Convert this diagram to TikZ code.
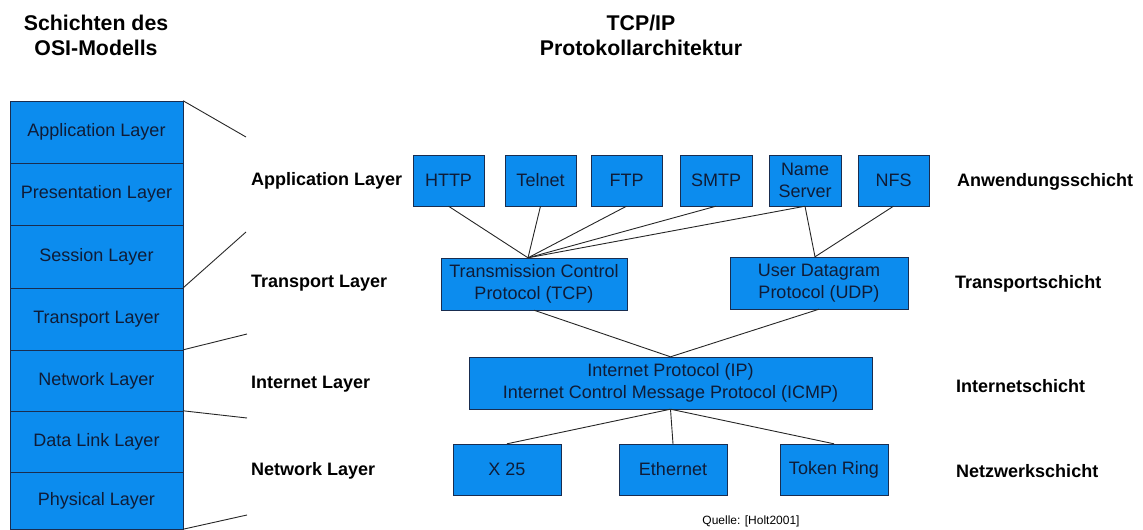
\documentclass[tikz,border=0pt]{standalone}
\usepackage{fontspec}
\setmainfont{Liberation Sans}
\usepackage{tikz}
\usepackage{xcolor}

\definecolor{boxblue}{RGB}{12,140,238}
\definecolor{boxline}{RGB}{25,45,80}
\definecolor{boxtext}{RGB}{15,28,55}

\tikzset{
  proto/.style={draw=boxline, fill=boxblue, text=boxtext, align=center, inner sep=0pt,
    font=\fontsize{18}{22.5}\selectfont, minimum height=51pt},
  osibox/.style={proto, minimum width=173pt},
  layerlbl/.style={anchor=west, inner sep=0pt, font=\fontsize{18}{22}\selectfont\bfseries},
  headline/.style={align=center, font=\fontsize{21.3}{25}\selectfont\bfseries},
  link/.style={draw=black!85, line width=0.9pt}
}

\begin{document}
\begin{tikzpicture}[x=1pt, y=-1pt]
        \useasboundingbox (0,0) rectangle (1143,530);

        % headings
        \node[headline] (osititle) at (96,35) {Schichten des\\OSI-Modells};
        \node[headline] (tcptitle) at (641,35) {TCP/IP\\Protokollarchitektur};

        % OSI stack on the left
        \foreach \i/\ya/\yb/\txt in {1/101/163/Application Layer, 2/163/225/Presentation Layer,
            3/225/288/Session Layer, 4/288/350/Transport Layer, 5/350/411/Network Layer,
            6/411/472/Data Link Layer, 7/472/529/Physical Layer}
          \node[osibox, minimum height={(\yb-\ya)*1pt}] (osi\i) at (96.5,{(\ya+\yb)/2}) {\txt};

        % layer names of the TCP/IP model
        \node[layerlbl] (lapp) at (251,181) {Application Layer};
        \node[layerlbl] (ltra) at (251,283) {Transport Layer};
        \node[layerlbl] (lint) at (251,384) {Internet Layer};
        \node[layerlbl] (lnet) at (251,471) {Network Layer};

        \node[layerlbl] (rapp) at (957,182) {Anwendungsschicht};
        \node[layerlbl] (rtra) at (955,284) {Transportschicht};
        \node[layerlbl] (rint) at (956,386) {Internetschicht};
        \node[layerlbl] (rnet) at (956,471) {Netzwerkschicht};

        % mapping lines between the two models
        \coordinate (m1) at (246,137);
        \coordinate (m2) at (246,232);
        \coordinate (m3) at (247,334);
        \coordinate (m4) at (247,418);
        \coordinate (m5) at (247,515);
        \draw[link] (osi1.north east) -- (m1);
        \draw[link] (osi4.north east) -- (m2);
        \draw[link] (osi5.north east) -- (m3);
        \draw[link] (osi6.north east) -- (m4);
        \draw[link] (osi7.south east) -- (m5);

        % application protocols
        \node[proto, minimum width=71pt] (http) at (448.5,180.5) {HTTP};
        \node[proto, minimum width=71pt] (telnet) at (540.5,180.5) {Telnet};
        \node[proto, minimum width=71pt] (ftp) at (626.5,180.5) {FTP};
        \node[proto, minimum width=72pt] (smtp) at (716,180.5) {SMTP};
        \node[proto, minimum width=72pt] (names) at (805,180.5) {Name\\Server};
        \node[proto, minimum width=71pt] (nfs) at (893.5,180.5) {NFS};

        % transport
        \node[proto, minimum width=186pt, minimum height=52pt] (tcp) at (534,284) {Transmission Control\\Protocol (TCP)};
        \node[proto, minimum width=178pt, minimum height=52pt] (udp) at (819,283) {User Datagram\\Protocol (UDP)};

        % internet
        \node[proto, minimum width=403pt, minimum height=52pt] (ip) at (670.5,383) {Internet Protocol (IP)\\Internet Control Message Protocol (ICMP)};

        % network access
        \node[proto, minimum width=108pt] (x25) at (507,469.5) {X 25};
        \node[proto, minimum width=108pt] (eth) at (673,469.5) {Ethernet};
        \node[proto, minimum width=108pt] (token) at (834,469.5) {Token Ring};

        \node[font=\fontsize{12}{14}\selectfont] (src) at (751,521) {Quelle: [Holt2001]};

        % connections
        \coordinate (tcpin) at ([xshift=-6pt]tcp.north);
        \coordinate (udpin) at ([xshift=-4pt]udp.north);
        \draw[link] (http.south) -- (tcpin);
        \draw[link] (telnet.south) -- (tcpin);
        \draw[link] (ftp.south) -- (tcpin);
        \draw[link] (smtp.south) -- (tcpin);
        \draw[link] (names.south) -- (tcpin);
        \draw[link] (names.south) -- (udpin);
        \draw[link] (nfs.south) -- (udpin);
        \draw[link] (tcp.south) -- (ip.north);
        \draw[link] (udp.south) -- (ip.north);
        \draw[link] (ip.south) -- (x25.north);
        \draw[link] (ip.south) -- (eth.north);
        \draw[link] (ip.south) -- (token.north);
    \end{tikzpicture}
\end{document}
